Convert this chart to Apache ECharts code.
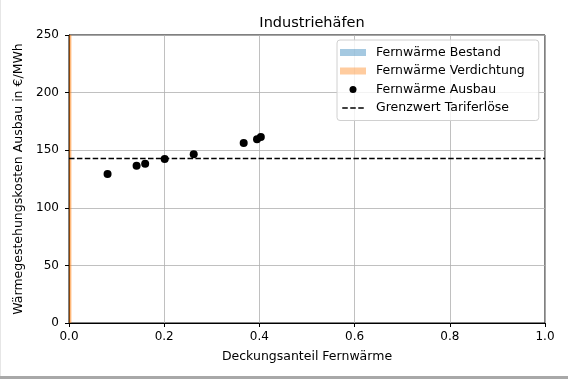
<!DOCTYPE html>
<html><head><meta charset="utf-8">
<script src="https://cdn.jsdelivr.net/npm/echarts@6/dist/echarts.min.js"></script>
<style>html,body{margin:0;padding:0;background:#fff}#c{width:568px;height:379px}</style>
</head><body><div id="c"></div>
<script>
const chartTitle = "Industriehäfen";
const xName = "Deckungsanteil Fernwärme";
const yName = "Wärmegestehungskosten Ausbau in €/MWh";
const ausbauX = [0.081, 0.142, 0.160, 0.201, 0.262, 0.367, 0.395, 0.403];
const ausbauY = [129.3, 136.6, 138.3, 142.4, 146.4, 156.2, 159.4, 161.5];
// filled bands: [xStart, xEnd, yBottom, yTop]
const bestandBand = [0, 0, 0, 250];
const verdichtungBand = [0, 0.005, 0, 250];
const grenzwertX = [0, 1];
const grenzwertY = [142.8, 142.8];
const legendNames = ["Fernwärme Bestand", "Fernwärme Verdichtung", "Fernwärme Ausbau", "Grenzwert Tariferlöse"];

const zip = (a, b) => a.map((v, i) => [v, b[i]]);
const font = "DejaVu Sans";
const bandRender = (color) => function (params, api) {
  const p0 = api.coord([api.value(0), api.value(2)]);
  const p1 = api.coord([api.value(1), api.value(3)]);
  const w = Math.max(p1[0] - p0[0], 0);
  return {type: 'rect', shape: {x: p0[0], y: p1[1], width: w, height: p0[1] - p1[1]},
    style: {fill: color}};
};
const chart = echarts.init(document.getElementById('c'), null, {renderer: 'canvas'});
chart.setOption({
  animation: false,
  backgroundColor: '#fff',
  textStyle: {fontFamily: font},
  title: {text: chartTitle, left: 307, top: 11, textAlign: 'center',
    textStyle: {fontFamily: font, fontSize: 14.5, fontWeight: 'normal', color: '#000'}},
  grid: {left: 69, right: 23, top: 35, bottom: 56, show: true, borderColor: '#000', borderWidth: 1, containLabel: false},
  legend: {
    orient: 'vertical', left: 337, top: 40, padding: [6, 14, 6, 3],
    backgroundColor: 'rgba(255,255,255,0.8)', borderColor: '#d0d0d0', borderWidth: 1, borderRadius: 3,
    itemWidth: 26, itemHeight: 7, itemGap: 5.5,
    textStyle: {fontFamily: font, fontSize: 12.5, color: '#000', padding: [0, 0, 0, 5]},
    data: [
      {name: legendNames[0], icon: 'rect', itemStyle: {color: 'rgba(31,119,180,0.4)'}},
      {name: legendNames[1], icon: 'rect', itemStyle: {color: 'rgba(255,127,14,0.4)'}},
      {name: legendNames[2], icon: 'circle', itemStyle: {color: '#000'}},
      {name: legendNames[3], icon: 'path://M0,0h5.5v1.6h-5.5z M8,0h5.5v1.6h-5.5z M16,0h5.5v1.6h-5.5z M0,-2.7z M0,4.3z', itemStyle: {color: '#000'}}
    ]
  },
  xAxis: {
    type: 'value', min: 0, max: 1, interval: 0.2,
    name: xName, nameLocation: 'middle', nameGap: 27,
    nameTextStyle: {fontFamily: font, fontSize: 12.5, color: '#000'},
    axisLine: {show: true, onZero: false, lineStyle: {color: '#000', width: 1}},
    axisTick: {show: true, length: 4, lineStyle: {color: '#000'}},
    axisLabel: {fontFamily: font, fontSize: 12, color: '#000', margin: 8, formatter: v => v.toFixed(1)},
    splitLine: {show: true, lineStyle: {color: '#b0b0b0', width: 0.8}}
  },
  yAxis: {
    type: 'value', min: 0, max: 250, interval: 50,
    name: yName, nameLocation: 'middle', nameGap: 41,
    nameTextStyle: {fontFamily: font, fontSize: 12.5, color: '#000'},
    axisLine: {show: true, onZero: false, lineStyle: {color: '#000', width: 1}},
    axisTick: {show: true, length: 4, lineStyle: {color: '#000'}},
    axisLabel: {fontFamily: font, fontSize: 12, color: '#000', margin: 10},
    splitLine: {show: true, lineStyle: {color: '#b0b0b0', width: 0.8}}
  },
  series: [
    {name: legendNames[0], type: 'custom', renderItem: bandRender('rgba(31,119,180,0.4)'),
      data: [bestandBand], encode: {x: [0, 1], y: [2, 3]}, itemStyle: {color: 'rgba(31,119,180,0.4)'}, z: 1},
    {name: legendNames[1], type: 'custom', renderItem: bandRender('rgba(255,127,14,0.55)'),
      data: [verdichtungBand], encode: {x: [0, 1], y: [2, 3]}, itemStyle: {color: 'rgba(255,127,14,0.4)'}, z: 1},
    {name: legendNames[2], type: 'scatter', data: zip(ausbauX, ausbauY), symbol: 'circle', symbolSize: 8,
      itemStyle: {color: '#000', opacity: 1}, z: 4},
    {name: legendNames[3], type: 'line', data: zip(grenzwertX, grenzwertY), symbol: 'none',
      lineStyle: {color: '#000', width: 1.5, type: [5.5, 2.4]}, z: 3}
  ],
  graphic: [
    {type: 'rect', shape: {x: 0, y: 0, width: 1, height: 379}, style: {fill: '#e6e6e6'}, silent: true},
    {type: 'rect', shape: {x: 0, y: 376, width: 568, height: 3}, style: {fill: '#a8a8a8'}, silent: true}
  ]
});
</script></body></html>
